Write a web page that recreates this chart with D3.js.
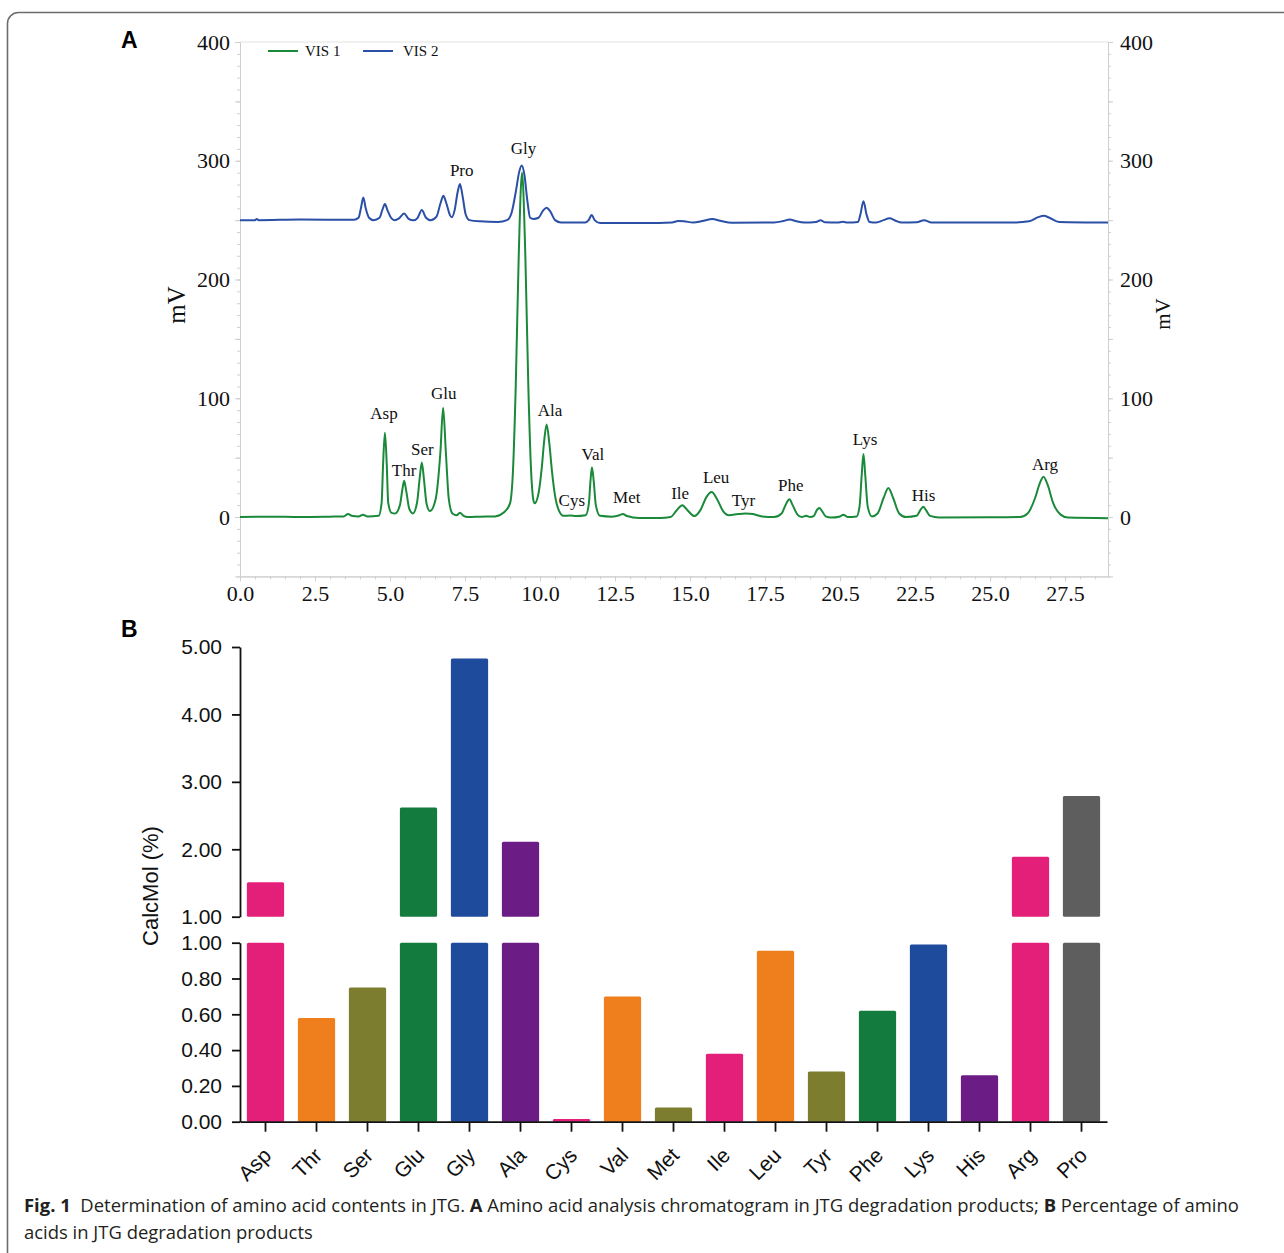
<!DOCTYPE html>
<html>
<head>
<meta charset="utf-8">
<script src="https://cdn.jsdelivr.net/npm/d3@7"></script>
<style>
    body { margin: 0; background: #fff; }
    svg { display: block; }
    .serif text { font-family: "Liberation Serif", "Times New Roman", serif; }
    .sans text { font-family: "Liberation Sans", Arial, sans-serif; }
</style>
</head>
<body>
<div id="chart"></div>
<script>
// ---- Panel A data: chromatogram traces, [time (min), mV] ----
const vis1Points = [
    [0, 0], [1, 0.3], [2, 0], [3, 0.3], [3.45, 0.5], [3.6, 2.5], [3.75, 0.8], [3.95, 0.5], [4.1, 2], [4.25, 0.5],
    [4.62, 1], [4.72, 12], [4.77, 45], [4.83, 71], [4.89, 45], [4.94, 12], [5.05, 3.5], [5.17, 3],
    [5.33, 10], [5.41, 23], [5.47, 30.5], [5.54, 22], [5.64, 7], [5.76, 3],
    [5.9, 12], [5.99, 33], [6.06, 46], [6.13, 32], [6.22, 11], [6.33, 5],
    [6.52, 15], [6.68, 55], [6.77, 92], [6.86, 55], [6.96, 15], [7.08, 3],
    [7.22, 1.5], [7.33, 3.5], [7.45, 1], [7.6, 0], [8.0, 0.3], [8.5, 0.5], [8.8, 4],
    [9.0, 11.5], [9.1, 40], [9.19, 110], [9.29, 220], [9.4, 290], [9.51, 220], [9.61, 110], [9.7, 40], [9.78, 14], [9.82, 11.5],
    [9.95, 20], [10.06, 42], [10.13, 62], [10.22, 78], [10.31, 62], [10.4, 38], [10.5, 18], [10.62, 6], [10.78, 1],
    [11.0, 1.2], [11.2, 0.8], [11.52, 1.5], [11.63, 12], [11.68, 30], [11.73, 42], [11.79, 30], [11.86, 10], [12.0, 1],
    [12.4, 0.3], [12.65, 1.5], [12.76, 2.5], [12.9, 0.8], [13.3, -0.8], [14.0, -0.8],
    [14.35, 0], [14.55, 5.5], [14.74, 10], [14.92, 5.5], [15.15, 0.8],
    [15.35, 6], [15.55, 17], [15.72, 21], [15.9, 15], [16.1, 5], [16.3, 1.5],
    [16.6, 2.5], [16.85, 3], [17.1, 2.5], [17.4, 0.5], [17.8, 0],
    [18.05, 3], [18.2, 11], [18.31, 15], [18.42, 10], [18.58, 2], [18.72, 0], [18.87, 1], [19.0, 0],
    [19.13, 1], [19.23, 6], [19.31, 7.6], [19.4, 5], [19.52, 0.5], [19.7, -0.5], [20.0, 0.5], [20.11, 2], [20.25, 0], [20.55, 0.5],
    [20.65, 9], [20.72, 35], [20.78, 53], [20.84, 35], [20.92, 9], [21.06, 0.5],
    [21.25, 3], [21.45, 16], [21.61, 24.5], [21.77, 16], [21.97, 3], [22.2, 0],
    [22.55, 1], [22.68, 6], [22.77, 8.7], [22.86, 6], [23.0, 1], [23.3, -0.3], [25.0, -0.2], [26.0, 0],
    [26.25, 3], [26.5, 16], [26.65, 28], [26.78, 34], [26.92, 27], [27.1, 12], [27.35, 2], [27.6, -0.5], [28.93, -1]
];

const vis2Points = [
    [0, 250], [0.5, 250], [0.56, 251], [0.62, 250], [2, 250.5], [3.8, 250.3],
    [3.95, 252], [4.03, 260], [4.11, 269], [4.19, 260], [4.3, 252], [4.45, 250],
    [4.65, 252], [4.75, 259], [4.83, 263.5], [4.92, 258], [5.05, 251.5], [5.15, 250],
    [5.3, 251.5], [5.47, 255.5], [5.62, 251], [5.78, 249.8], [5.92, 252], [6.06, 258.5], [6.2, 252], [6.35, 250],
    [6.55, 253], [6.68, 264], [6.78, 270.5], [6.88, 264], [7.0, 254], [7.06, 252.4],
    [7.15, 258], [7.25, 273], [7.33, 280.5], [7.42, 270], [7.52, 255], [7.65, 250], [8.0, 249], [8.6, 248.5],
    [8.9, 250], [9.05, 256], [9.2, 275], [9.3, 290], [9.39, 296], [9.48, 288], [9.57, 268], [9.67, 252],
    [9.78, 251], [9.95, 252], [10.1, 258], [10.22, 260.5], [10.35, 257], [10.5, 250], [10.7, 248],
    [11.5, 248], [11.62, 250], [11.72, 254.3], [11.82, 250], [12.0, 247.5], [13.5, 247.5],
    [14.4, 248], [14.6, 249.2], [14.8, 249], [15.1, 248], [15.45, 249.5], [15.74, 250.9], [16.0, 249.5], [16.4, 247.8],
    [17.8, 248], [18.1, 249.2], [18.32, 250.6], [18.55, 249], [18.8, 248], [19.2, 248.5], [19.35, 250], [19.5, 248.2],
    [19.9, 248], [20.1, 248.6], [20.25, 248], [20.6, 248.5], [20.68, 255], [20.78, 266], [20.88, 255], [20.98, 248.5],
    [21.2, 248], [21.45, 250], [21.65, 251.5], [21.85, 249.5], [22.05, 248], [22.55, 248.2], [22.8, 250], [23.05, 248],
    [25.8, 248], [26.3, 249], [26.6, 252.5], [26.79, 253.7], [26.98, 252], [27.3, 248.5], [28.93, 248]
];

// peak labels: name, time, mV
const peakNames = ['Pro', 'Gly', 'Asp', 'Thr', 'Ser', 'Glu', 'Ala', 'Cys', 'Val', 'Met',
                   'Ile', 'Leu', 'Tyr', 'Phe', 'Lys', 'His', 'Arg'];
const peakTimes = [7.39, 9.45, 4.8, 5.47, 6.08, 6.79, 10.33, 11.06, 11.76, 12.89,
                   14.67, 15.87, 16.78, 18.36, 20.83, 22.78, 26.83];
const peakLabelMV = [292, 310, 87, 39, 57, 104, 89.5, 14, 52.5, 16.5,
                     19.5, 33.5, 13.5, 26.5, 65.5, 18, 44];

const xTickValues = [0, 2.5, 5, 7.5, 10, 12.5, 15, 17.5, 20, 22.5, 25, 27.5];
const xTickLabels = ['0.0', '2.5', '5.0', '7.5', '10.0', '12.5', '15.0', '17.5', '20.5', '22.5', '25.0', '27.5'];
const yTickValues = [0, 100, 200, 300, 400];

// ---- Panel B data: CalcMol (%) ----
const aminoAcids = ['Asp', 'Thr', 'Ser', 'Glu', 'Gly', 'Ala', 'Cys', 'Val', 'Met',
                    'Ile', 'Leu', 'Tyr', 'Phe', 'Lys', 'His', 'Arg', 'Pro'];
const calcMol = [1.51, 0.58, 0.75, 2.62, 4.83, 2.11, 0.015, 0.70, 0.08,
                 0.38, 0.955, 0.28, 0.62, 0.99, 0.26, 1.89, 2.79];
const barColors = ['#e31f79', '#ef7e1c', '#7c7d2e', '#137b3d', '#1f4b9d', '#6b1c85', '#e31f79', '#ef7e1c', '#7c7d2e',
                   '#e31f79', '#ef7e1c', '#7c7d2e', '#137b3d', '#1f4b9d', '#6b1c85', '#e31f79', '#5e5e5e'];
const lowTicks = [0, 0.2, 0.4, 0.6, 0.8, 1.0];
const highTicks = [1, 2, 3, 4, 5];

const svg = d3.select('#chart')
    .append('svg')
    .attr('width', 1284)
    .attr('height', 1253);

// outer frame (rounded box, open to the right/bottom)
svg.append('rect')
    .attr('x', 7.5).attr('y', 12.5)
    .attr('width', 1320).attr('height', 1262)
    .attr('rx', 11)
    .attr('fill', 'none')
    .attr('stroke', '#6b6b6b')
    .attr('stroke-width', 1.6);

// ================= Panel A =================
const gA = svg.append('g').attr('class', 'serif');

const x = d3.scaleLinear().domain([0, 28.93]).range([240, 1108]);
const y = d3.scaleLinear().domain([-50, 400]).range([576.4, 42]);

const axisGrey = '#cfcfcf';

// frame top line
gA.append('line')
    .attr('x1', x.range()[0]).attr('x2', x.range()[1])
    .attr('y1', y(400)).attr('y2', y(400))
    .attr('stroke', '#e3e3e3');

function styleAxis(sel) {
    sel.select('.domain').attr('stroke', axisGrey);
    sel.selectAll('.tick line').attr('stroke', axisGrey);
    sel.selectAll('.tick text').attr('fill', '#111').style('font-size', '22px');
}

const minorY = d3.range(-50, 401, 10);
const midY = d3.range(-50, 401, 50);

// left axis
gA.append('g').attr('transform', `translate(${x(0)},0)`)
    .call(d3.axisLeft(y).tickValues(minorY).tickSize(3).tickFormat('').tickSizeOuter(0))
    .call(styleAxis);
gA.append('g').attr('transform', `translate(${x(0)},0)`)
    .call(d3.axisLeft(y).tickValues(midY).tickSize(5).tickPadding(5)
        .tickFormat(d => yTickValues.includes(d) ? d : '').tickSizeOuter(0))
    .call(styleAxis);

// right axis
gA.append('g').attr('transform', `translate(${x.range()[1]},0)`)
    .call(d3.axisRight(y).tickValues(minorY).tickSize(3).tickFormat('').tickSizeOuter(0))
    .call(styleAxis);
gA.append('g').attr('transform', `translate(${x.range()[1]},0)`)
    .call(d3.axisRight(y).tickValues(midY).tickSize(5).tickPadding(7)
        .tickFormat(d => yTickValues.includes(d) ? d : '').tickSizeOuter(0))
    .call(styleAxis);

// bottom axis
gA.append('g').attr('transform', `translate(0,${y(-50)})`)
    .call(d3.axisBottom(x).tickValues(d3.range(0, 28.9, 0.5)).tickSize(3).tickFormat('').tickSizeOuter(0))
    .call(styleAxis);
gA.append('g').attr('transform', `translate(0,${y(-50)})`)
    .call(d3.axisBottom(x).tickValues(xTickValues).tickSize(5).tickPadding(4)
        .tickFormat((d, i) => xTickLabels[i]).tickSizeOuter(0))
    .call(styleAxis);

// traces
const line = d3.line()
    .x(d => x(d[0]))
    .y(d => y(d[1]))
    .curve(d3.curveMonotoneX);

const vis1Color = '#1a8a3a';
const vis2Color = '#2a4fa6';

gA.append('path')
    .datum(vis2Points)
    .attr('d', line)
    .attr('fill', 'none')
    .attr('stroke', vis2Color)
    .attr('stroke-width', 2);

gA.append('path')
    .datum(vis1Points)
    .attr('d', line)
    .attr('fill', 'none')
    .attr('stroke', vis1Color)
    .attr('stroke-width', 2);

// peak labels
gA.selectAll('.peak-label')
    .data(peakNames)
    .enter()
    .append('text')
    .attr('class', 'peak-label')
    .attr('x', (d, i) => x(peakTimes[i]))
    .attr('y', (d, i) => y(peakLabelMV[i]))
    .attr('text-anchor', 'middle')
    .attr('dominant-baseline', 'central')
    .style('font-size', '17px')
    .attr('fill', '#111')
    .text(d => d);

// legend
const legendItems = [['VIS 1', vis1Color, 268, 305], ['VIS 2', vis2Color, 363, 403]];
legendItems.forEach(([name, color, lx, tx]) => {
    gA.append('line')
        .attr('x1', lx).attr('x2', lx + 30)
        .attr('y1', 51).attr('y2', 51)
        .attr('stroke', color).attr('stroke-width', 2);
    gA.append('text')
        .attr('x', tx).attr('y', 56)
        .style('font-size', '15px')
        .attr('fill', '#111')
        .text(name);
});

// axis titles
gA.append('text')
    .attr('transform', 'translate(185,305) rotate(-90)')
    .attr('text-anchor', 'middle')
    .style('font-size', '25px')
    .attr('fill', '#111')
    .text('mV');
gA.append('text')
    .attr('transform', 'translate(1170,314) rotate(-90)')
    .attr('text-anchor', 'middle')
    .style('font-size', '21px')
    .attr('fill', '#111')
    .text('mV');

// panel letters
svg.append('text').attr('x', 121).attr('y', 48)
    .style('font-family', '"Liberation Sans", Arial, sans-serif')
    .style('font-weight', 'bold').style('font-size', '23px')
    .text('A');
svg.append('text').attr('x', 121).attr('y', 637)
    .style('font-family', '"Liberation Sans", Arial, sans-serif')
    .style('font-weight', 'bold').style('font-size', '23px')
    .text('B');

// ================= Panel B =================
const gB = svg.append('g').attr('class', 'sans');

const xb = d3.scaleBand()
    .domain(aminoAcids)
    .range([240, 1107])
    .paddingInner(0.27)
    .paddingOuter(0.135);

const yLow = d3.scaleLinear().domain([0, 1]).range([1121.7, 942.7]);
const yHigh = d3.scaleLinear().domain([1, 5]).range([916.7, 647]);

// bars: lower segment (0 - min(v,1))
gB.selectAll('.bar-low')
    .data(calcMol)
    .enter()
    .append('rect')
    .attr('class', 'bar-low')
    .attr('x', (d, i) => xb(aminoAcids[i]))
    .attr('width', xb.bandwidth())
    .attr('y', d => yLow(Math.min(d, 1)))
    .attr('height', d => yLow(0) - yLow(Math.min(d, 1)))
    .attr('rx', 1.5)
    .attr('fill', (d, i) => barColors[i]);

// bars: upper segment (1 - v) for values above the break
gB.selectAll('.bar-high')
    .data(calcMol.map((v, i) => ({ v, i })).filter(d => d.v > 1))
    .enter()
    .append('rect')
    .attr('class', 'bar-high')
    .attr('x', d => xb(aminoAcids[d.i]))
    .attr('width', xb.bandwidth())
    .attr('y', d => yHigh(d.v))
    .attr('height', d => yHigh(1) - yHigh(d.v))
    .attr('rx', 1.5)
    .attr('fill', d => barColors[d.i]);

function styleAxisB(sel) {
    sel.select('.domain').attr('stroke', '#111').attr('stroke-width', 1.8);
    sel.selectAll('.tick line').attr('stroke', '#111').attr('stroke-width', 1.8);
    sel.selectAll('.tick text').attr('fill', '#111').style('font-size', '21px');
}

gB.append('g').attr('transform', 'translate(240,0)')
    .call(d3.axisLeft(yLow).tickValues(lowTicks).tickSize(8).tickPadding(10)
        .tickFormat(d3.format('.2f')).tickSizeOuter(0))
    .call(styleAxisB);

gB.append('g').attr('transform', 'translate(240,0)')
    .call(d3.axisLeft(yHigh).tickValues(highTicks).tickSize(8).tickPadding(10)
        .tickFormat(d3.format('.2f')).tickSizeOuter(0))
    .call(styleAxisB);

const xAxisB = gB.append('g').attr('transform', `translate(0,${yLow(0)})`)
    .call(d3.axisBottom(xb).tickSize(10).tickSizeOuter(0))
    .call(styleAxisB);

xAxisB.selectAll('.tick text')
    .attr('text-anchor', 'end')
    .attr('dy', null)
    .attr('y', null)
    .attr('transform', 'translate(7,35) rotate(-45)');

gB.append('text')
    .attr('transform', 'translate(158,886) rotate(-90)')
    .attr('text-anchor', 'middle')
    .style('font-size', '22px')
    .attr('fill', '#111')
    .text('CalcMol (%)');

// ================= Caption =================
const capFont = '"Open Sans", "Noto Sans", sans-serif';
const cap1 = svg.append('text')
    .attr('x', 0).attr('y', 0)
    .style('font-family', capFont).style('font-size', '18.5px')
    .attr('fill', '#231f20');
cap1.append('tspan').style('font-weight', 'bold').text('Fig. 1');
cap1.append('tspan').text('\u00a0\u00a0Determination of amino acid contents in JTG. ');
cap1.append('tspan').style('font-weight', 'bold').text('A');
cap1.append('tspan').text(' Amino acid analysis chromatogram in JTG degradation products; ');
cap1.append('tspan').style('font-weight', 'bold').text('B');
cap1.append('tspan').text(' Percentage of amino');

const cap2 = svg.append('text')
    .attr('x', 0).attr('y', 0)
    .style('font-family', capFont).style('font-size', '18.5px')
    .attr('fill', '#231f20')
    .text('acids in JTG degradation products');

// squeeze the caption to the condensed width of the original typeface
const capScale = 1215 / cap1.node().getComputedTextLength();
cap1.attr('transform', `translate(24,1212) scale(${capScale},1)`);
cap2.attr('transform', `translate(24,1239) scale(${capScale},1)`);
</script>
</body>
</html>
